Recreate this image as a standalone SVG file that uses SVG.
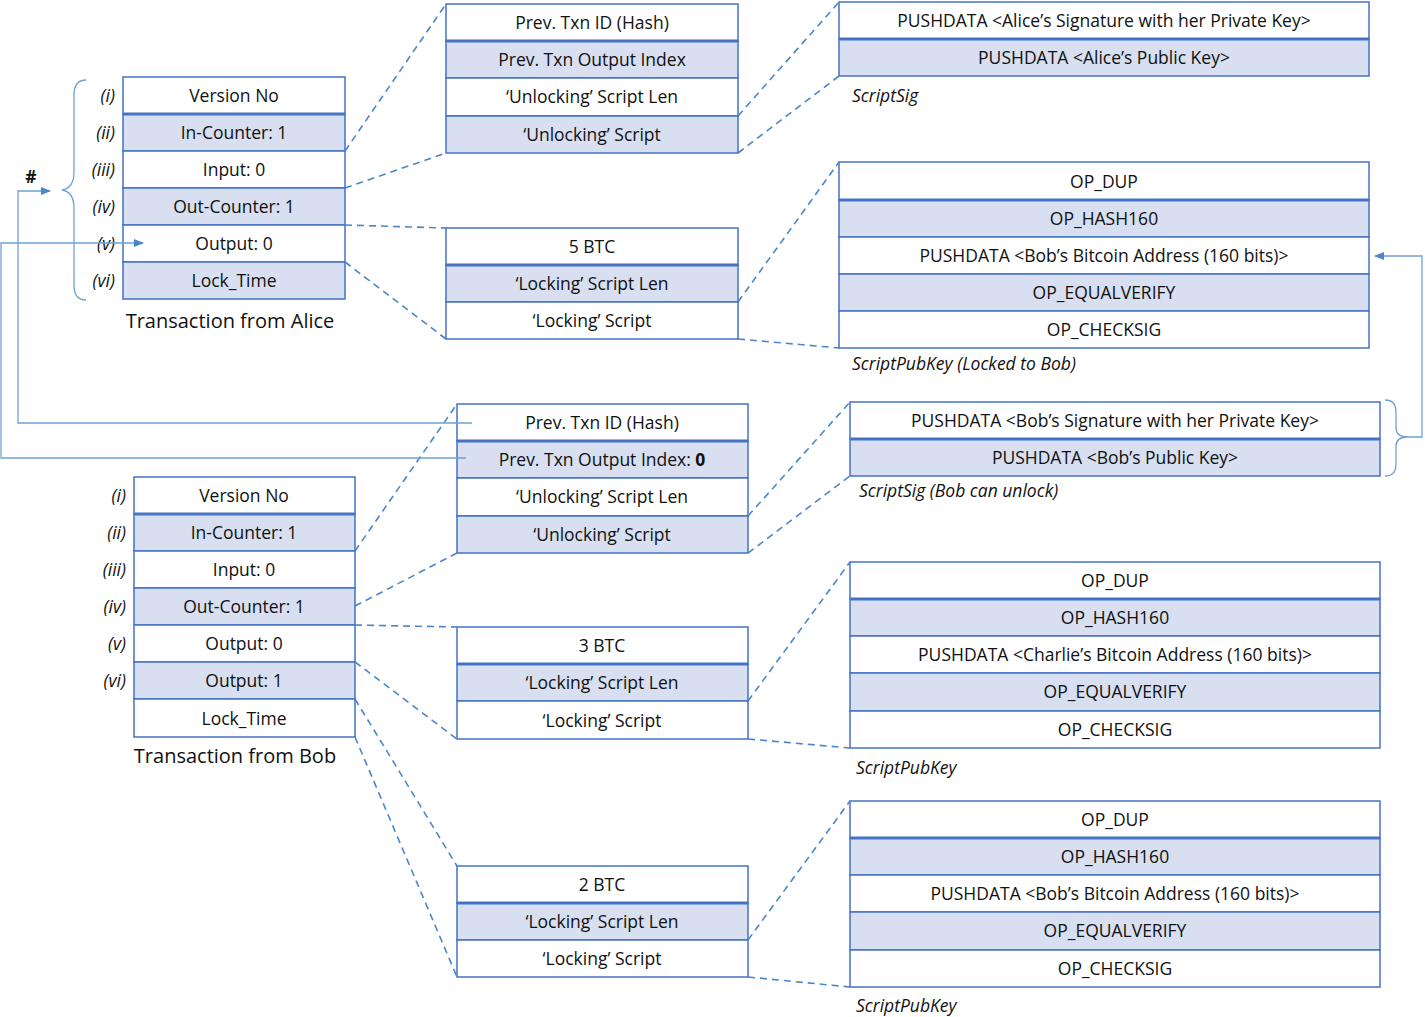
<svg xmlns="http://www.w3.org/2000/svg" width="1425" height="1017" viewBox="0 0 1425 1017">
<defs>
<style>
.w{fill:#fff;stroke:#4472c4;stroke-width:1.5}
.s{fill:#d7dff0;stroke:#4472c4;stroke-width:1.5}
.tk{stroke:#4472c4;stroke-width:3}
text{font-family:"Open Sans","DejaVu Sans",sans-serif;font-size:17.5px;fill:#111;text-anchor:middle}
.l{font-style:italic;text-anchor:end}
.c{font-style:italic;text-anchor:start}
.d{stroke:#4a86c8;stroke-width:1.6;stroke-dasharray:7,5;fill:none}
.f{stroke:#6fa1d4;stroke-width:1.3;fill:none}
</style>
<marker id="a" viewBox="0 0 10 10" refX="9" refY="5" markerWidth="8" markerHeight="8" orient="auto"><path d="M0,1L10,5L0,9z" fill="#4a86c8"/></marker>
</defs>
<g id="alice-tx">
<rect class="w" x="123" y="77" width="222" height="37"/><rect class="s" x="123" y="114" width="222" height="37"/><rect class="w" x="123" y="151" width="222" height="37"/><rect class="s" x="123" y="188" width="222" height="37"/><rect class="w" x="123" y="225" width="222" height="37"/><rect class="s" x="123" y="262" width="222" height="37"/>
<line class="tk" x1="123" y1="114" x2="345" y2="114"/>
<text x="234" y="102">Version No</text><text x="234" y="139">In-Counter: 1</text><text x="234" y="176">Input: 0</text><text x="234" y="213">Out-Counter: 1</text><text x="234" y="250">Output: 0</text><text x="234" y="287">Lock_Time</text>
<text class="l" x="115" y="102">(i)</text><text class="l" x="115" y="139">(ii)</text><text class="l" x="115" y="176">(iii)</text><text class="l" x="115" y="213">(iv)</text><text class="l" x="115" y="250">(v)</text><text class="l" x="115" y="287">(vi)</text>
<text x="230" y="328" style="font-size:20px">Transaction from Alice</text>
<text x="31" y="183" style="font-weight:bold">#</text>
<path class="f" d="M86,80 Q74,80 74,95 L74,172 Q74,188 62,190 Q74,192 74,208 L74,285 Q74,300 86,300"/>
</g>
<g id="alice-in">
<rect class="w" x="446" y="4" width="292" height="37"/><rect class="s" x="446" y="41" width="292" height="37"/><rect class="w" x="446" y="78" width="292" height="38"/><rect class="s" x="446" y="116" width="292" height="37"/>
<line class="tk" x1="446" y1="41" x2="738" y2="41"/>
<text x="592" y="29">Prev. Txn ID (Hash)</text><text x="592" y="66">Prev. Txn Output Index</text><text x="592" y="103">‘Unlocking’ Script Len</text><text x="592" y="141">‘Unlocking’ Script</text>
</g>
<g id="alice-sig">
<rect class="w" x="839" y="2" width="530" height="37"/><rect class="s" x="839" y="39" width="530" height="37"/>
<line class="tk" x1="839" y1="39" x2="1369" y2="39"/>
<text x="1104" y="27">PUSHDATA &lt;Alice’s Signature with her Private Key&gt;</text><text x="1104" y="64">PUSHDATA &lt;Alice’s Public Key&gt;</text>
<text class="c" x="852" y="102">ScriptSig</text>
</g>
<g id="alice-out">
<rect class="w" x="446" y="228" width="292" height="37"/><rect class="s" x="446" y="265" width="292" height="37"/><rect class="w" x="446" y="302" width="292" height="37"/>
<line class="tk" x1="446" y1="265" x2="738" y2="265"/>
<text x="592" y="253">5 BTC</text><text x="592" y="290">‘Locking’ Script Len</text><text x="592" y="327">‘Locking’ Script</text>
</g>
<g id="alice-pk">
<rect class="w" x="839" y="162" width="530" height="38"/><rect class="s" x="839" y="200" width="530" height="37"/><rect class="w" x="839" y="237" width="530" height="37"/><rect class="s" x="839" y="274" width="530" height="37"/><rect class="w" x="839" y="311" width="530" height="37"/>
<line class="tk" x1="839" y1="200" x2="1369" y2="200"/>
<text x="1104" y="188">OP_DUP</text><text x="1104" y="225">OP_HASH160</text><text x="1104" y="262">PUSHDATA &lt;Bob’s Bitcoin Address (160 bits)&gt;</text><text x="1104" y="299">OP_EQUALVERIFY</text><text x="1104" y="336">OP_CHECKSIG</text>
<text class="c" x="852" y="370">ScriptPubKey  (Locked to Bob)</text>
</g>
<g id="bob-tx">
<rect class="w" x="134" y="477" width="221" height="37"/><rect class="s" x="134" y="514" width="221" height="37"/><rect class="w" x="134" y="551" width="221" height="37"/><rect class="s" x="134" y="588" width="221" height="37"/><rect class="w" x="134" y="625" width="221" height="37"/><rect class="s" x="134" y="662" width="221" height="37"/><rect class="w" x="134" y="699" width="221" height="38"/>
<line class="tk" x1="134" y1="514" x2="355" y2="514"/>
<text x="244" y="502">Version No</text><text x="244" y="539">In-Counter: 1</text><text x="244" y="576">Input: 0</text><text x="244" y="613">Out-Counter: 1</text><text x="244" y="650">Output: 0</text><text x="244" y="687">Output: 1</text><text x="244" y="725">Lock_Time</text>
<text class="l" x="126" y="502">(i)</text><text class="l" x="126" y="539">(ii)</text><text class="l" x="126" y="576">(iii)</text><text class="l" x="126" y="613">(iv)</text><text class="l" x="126" y="650">(v)</text><text class="l" x="126" y="687">(vi)</text>
<text x="235" y="763" style="font-size:20px">Transaction from Bob</text>
</g>
<g id="bob-in">
<rect class="w" x="457" y="404" width="291" height="37"/><rect class="s" x="457" y="441" width="291" height="37"/><rect class="w" x="457" y="478" width="291" height="38"/><rect class="s" x="457" y="516" width="291" height="37"/>
<line class="tk" x1="457" y1="441" x2="748" y2="441"/>
<text x="602" y="429">Prev. Txn ID (Hash)</text><text x="602" y="466">Prev. Txn Output Index: <tspan font-weight="bold">0</tspan></text><text x="602" y="503">‘Unlocking’ Script Len</text><text x="602" y="541">‘Unlocking’ Script</text>
</g>
<g id="bob-sig">
<rect class="w" x="850" y="402" width="530" height="37"/><rect class="s" x="850" y="439" width="530" height="37"/>
<line class="tk" x1="850" y1="439" x2="1380" y2="439"/>
<text x="1115" y="427">PUSHDATA &lt;Bob’s Signature with her Private Key&gt;</text><text x="1115" y="464">PUSHDATA &lt;Bob’s Public Key&gt;</text>
<text class="c" x="859" y="497">ScriptSig (Bob can unlock)</text>
<path class="f" d="M1385,400 Q1396,400 1396,412 L1396,428 Q1396,437 1408,437 Q1396,437 1396,446 L1396,464 Q1396,476 1385,476"/>
</g>
<g id="bob-out0">
<rect class="w" x="457" y="627" width="291" height="37"/><rect class="s" x="457" y="664" width="291" height="37"/><rect class="w" x="457" y="701" width="291" height="38"/>
<line class="tk" x1="457" y1="664" x2="748" y2="664"/>
<text x="602" y="652">3 BTC</text><text x="602" y="689">‘Locking’ Script Len</text><text x="602" y="727">‘Locking’ Script</text>
</g>
<g id="charlie-pk">
<rect class="w" x="850" y="562" width="530" height="37"/><rect class="s" x="850" y="599" width="530" height="37"/><rect class="w" x="850" y="636" width="530" height="37"/><rect class="s" x="850" y="673" width="530" height="38"/><rect class="w" x="850" y="711" width="530" height="37"/>
<line class="tk" x1="850" y1="599" x2="1380" y2="599"/>
<text x="1115" y="587">OP_DUP</text><text x="1115" y="624">OP_HASH160</text><text x="1115" y="661">PUSHDATA &lt;Charlie’s Bitcoin Address (160 bits)&gt;</text><text x="1115" y="698">OP_EQUALVERIFY</text><text x="1115" y="736">OP_CHECKSIG</text>
<text class="c" x="856" y="774">ScriptPubKey</text>
</g>
<g id="bob-out1">
<rect class="w" x="457" y="866" width="291" height="37"/><rect class="s" x="457" y="903" width="291" height="37"/><rect class="w" x="457" y="940" width="291" height="37"/>
<line class="tk" x1="457" y1="903" x2="748" y2="903"/>
<text x="602" y="891">2 BTC</text><text x="602" y="928">‘Locking’ Script Len</text><text x="602" y="965">‘Locking’ Script</text>
</g>
<g id="bob-pk">
<rect class="w" x="850" y="801" width="530" height="37"/><rect class="s" x="850" y="838" width="530" height="37"/><rect class="w" x="850" y="875" width="530" height="37"/><rect class="s" x="850" y="912" width="530" height="38"/><rect class="w" x="850" y="950" width="530" height="37"/>
<line class="tk" x1="850" y1="838" x2="1380" y2="838"/>
<text x="1115" y="826">OP_DUP</text><text x="1115" y="863">OP_HASH160</text><text x="1115" y="900">PUSHDATA &lt;Bob’s Bitcoin Address (160 bits)&gt;</text><text x="1115" y="937">OP_EQUALVERIFY</text><text x="1115" y="975">OP_CHECKSIG</text>
<text class="c" x="856" y="1012">ScriptPubKey</text>
</g>
<g id="connectors">
<path class="d" d="M345,151L446,4M345,188L446,153M345,225L446,228M345,262L446,339M738,116L839,2M738,153L839,76M738,302L839,162M738,339L839,348"/>
<path class="d" d="M355,551L457,404M355,606L457,553M355,625L457,627M355,662L457,739M355,699L457,866M355,737L457,977M748,516L850,402M748,553L850,476M748,701L850,562M748,739L850,748M748,940L850,801M748,977L850,987"/>
<path class="f" d="M472,423L18,423L18,191L50,191" marker-end="url(#a)"/>
<path class="f" d="M466,458L1,458L1,243L143,243" marker-end="url(#a)"/>
<path class="f" d="M1408,437L1422,437L1422,256L1375,256" marker-end="url(#a)"/>
</g>
</svg>
